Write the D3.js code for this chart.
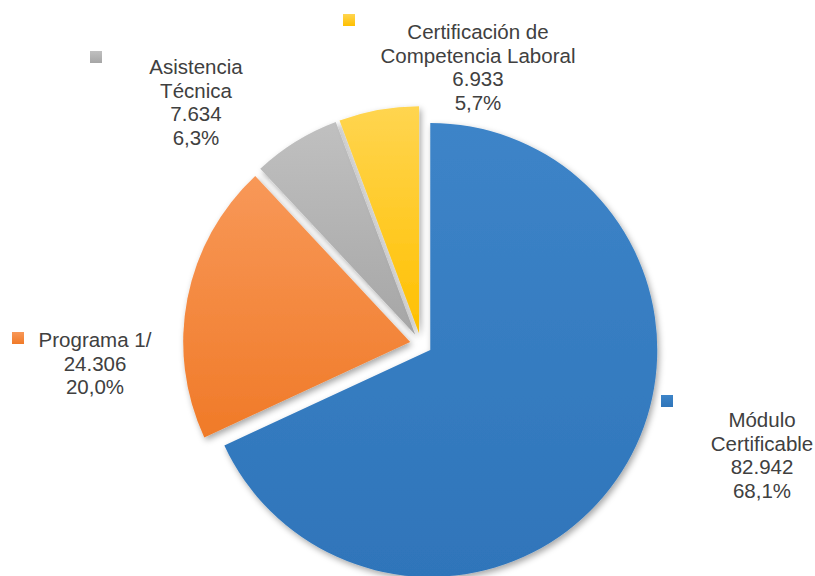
<!DOCTYPE html>
<html>
<head>
<meta charset="utf-8">
<script src="https://cdn.jsdelivr.net/npm/d3@7"></script>
<style>
  body { margin: 0; background: #fff; }
  text { font-family: "Liberation Sans", Arial, sans-serif; }
</style>
</head>
<body>
<div id="chart"></div>
<script>
const width = 815;
const height = 576;

// data
const categories = ["Módulo\nCertificable", "Programa 1/", "Asistencia\nTécnica", "Certificación de\nCompetencia Laboral"];
const values = [82942, 24306, 7634, 6933];
const colorsTop = ["#3d84c8", "#f89858", "#c0c0c0", "#ffd550"];
const colorsBottom = ["#2f75ba", "#f07a28", "#a6a6a6", "#ffc000"];

// label anchors (center x, first line y) and legend key corner
const labelPos = [
  { x: 762, y: 420, kx: 661, ky: 395 },
  { x: 95, y: 340, kx: 12, ky: 332 },
  { x: 196, y: 67, kx: 90, ky: 51 },
  { x: 478, y: 32, kx: 343, ky: 14 }
];

const cx = 421, cy = 344;
const radius = 227;
const explode = 11;
const lineH = 23.5;

const locale = d3.formatLocale({ decimal: ",", thousands: ".", grouping: [3], currency: ["", ""] });
const fmtNum = locale.format(",d");
const fmtPct = locale.format(".1%");

const svg = d3.select("#chart")
  .append("svg")
  .attr("width", width)
  .attr("height", height);

const defs = svg.append("defs");

const shadow = defs.append("filter")
  .attr("id", "shadow")
  .attr("x", "-20%").attr("y", "-20%")
  .attr("width", "140%").attr("height", "140%");
shadow.append("feDropShadow")
  .attr("dx", 2).attr("dy", 3)
  .attr("stdDeviation", 3)
  .attr("flood-color", "#000")
  .attr("flood-opacity", 0.35);

values.forEach((v, i) => {
  const g = defs.append("linearGradient")
    .attr("id", "grad" + i)
    .attr("x1", 0).attr("y1", 0).attr("x2", 0).attr("y2", 1);
  g.append("stop").attr("offset", "0%").attr("stop-color", colorsTop[i]);
  g.append("stop").attr("offset", "100%").attr("stop-color", colorsBottom[i]);
});

const total = d3.sum(values);
const data = values.map((v, i) => ({ name: categories[i], value: v, i }));

const pie = d3.pie()
  .sort(null)
  .value(d => d.value);

const arc = d3.arc()
  .innerRadius(0)
  .outerRadius(radius);

const arcs = pie(data);

// Slices
svg.append("g")
  .attr("transform", `translate(${cx},${cy})`)
  .selectAll("path")
  .data(arcs)
  .enter()
  .append("path")
  .attr("d", arc)
  .attr("fill", d => `url(#grad${d.data.i})`)
  .attr("filter", "url(#shadow)")
  .attr("transform", d => {
    const a = (d.startAngle + d.endAngle) / 2;
    return `translate(${Math.sin(a) * explode},${-Math.cos(a) * explode})`;
  });

// Labels
const labels = svg.append("g");

arcs.forEach((d, k) => {
  const pos = labelPos[k];
  const lines = d.data.name.split("\n")
    .concat([fmtNum(d.data.value), fmtPct(d.data.value / total)]);

  labels.append("rect")
    .attr("x", pos.kx)
    .attr("y", pos.ky)
    .attr("width", 12)
    .attr("height", 12)
    .attr("fill", `url(#grad${d.data.i})`);

  const t = labels.append("text")
    .attr("text-anchor", "middle")
    .style("font-size", "20.5px")
    .style("fill", "#404040");

  lines.forEach((line, j) => {
    t.append("tspan")
      .attr("x", pos.x)
      .attr("y", pos.y + j * lineH + 7)
      .text(line);
  });
});
</script>
</body>
</html>
